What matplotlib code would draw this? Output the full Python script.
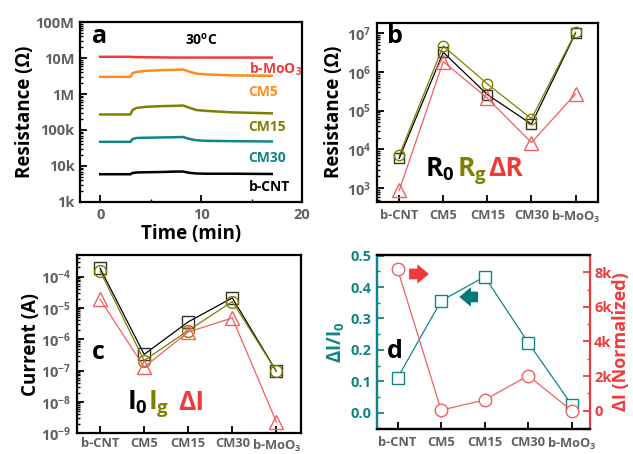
import numpy as np
import matplotlib
matplotlib.use("Agg")
import matplotlib.pyplot as plt
from matplotlib.ticker import FixedLocator, FuncFormatter, LogLocator, NullFormatter, MultipleLocator

plt.rcParams['font.family'] = ['Open Sans', 'DejaVu Sans']
plt.rcParams['font.weight'] = 'bold'
plt.rcParams['mathtext.fontset'] = 'custom'
plt.rcParams['mathtext.rm'] = 'Open Sans:bold'
plt.rcParams['mathtext.it'] = 'Open Sans:bold'
plt.rcParams['mathtext.bf'] = 'Open Sans:bold'
plt.rcParams['mathtext.default'] = 'bf'
plt.rcParams['axes.linewidth'] = 1.6

# ---------------- data ----------------
time_min = [0, 3.0, 3.2, 3.6, 4.5, 6.0, 7.5, 8.2, 8.8, 9.5, 10.5, 13.0, 17.0]
r_moo3 = [10.8e6, 10.8e6, 10.7e6, 10.6e6, 10.5e6, 10.4e6, 10.3e6, 10.3e6, 10.3e6, 10.3e6, 10.3e6, 10.3e6, 10.3e6]
r_cm5 = [3.0e6, 3.0e6, 3.8e6, 4.1e6, 4.4e6, 4.6e6, 4.7e6, 4.8e6, 4.2e6, 3.7e6, 3.5e6, 3.3e6, 3.2e6]
r_cm15 = [2.7e5, 2.7e5, 3.6e5, 4.1e5, 4.4e5, 4.6e5, 4.7e5, 4.8e5, 4.2e5, 3.6e5, 3.4e5, 3.1e5, 2.9e5]
r_cm30 = [4.7e4, 4.7e4, 5.6e4, 6.0e4, 6.1e4, 6.2e4, 6.3e4, 6.4e4, 5.7e4, 5.2e4, 5.0e4, 4.9e4, 4.8e4]
r_cnt = [5.9e3, 5.9e3, 6.4e3, 6.6e3, 6.7e3, 6.8e3, 7.0e3, 7.0e3, 6.5e3, 6.2e3, 6.1e3, 6.1e3, 6.0e3]
a_series_labels = ['b-MoO$_3$', 'CM5', 'CM15', 'CM30', 'b-CNT']
a_label_y = [4.95e6, 1.14e6, 1.21e5, 1.67e4, 2.6e3]
a_yticks = [1e3, 1e4, 1e5, 1e6, 1e7, 1e8]
a_ytick_labels = ['1k', '10k', '100k', '1M', '10M', '100M']
a_xticks = [0, 10, 20]

categories = ['b-CNT', 'CM5', 'CM15', 'CM30', 'b-MoO$_3$']

R0 = [5.9e3, 3.2e6, 2.6e5, 4.5e4, 1.0e7]
Rg = [7.0e3, 4.7e6, 4.9e5, 6.2e4, 1.05e7]
dR = [8.7e2, 1.85e6, 2.1e5, 1.5e4, 2.7e5]

I0 = [1.85e-4, 3.3e-7, 3.6e-6, 2.1e-5, 9.5e-8]
Ig = [1.5e-4, 2.1e-7, 1.9e-6, 1.6e-5, 9.5e-8]
dI = [1.9e-5, 1.3e-7, 1.7e-6, 4.8e-6, 2.3e-9]

dI_over_I0 = [0.111, 0.356, 0.433, 0.223, 0.025]
dI_norm = [8170, 30, 620, 2020, 0]
d_right_ticks = [0, 2000, 4000, 6000, 8000]
d_right_labels = ['0', '2k', '4k', '6k', '8k']

# ---------------- colors ----------------
RED = '#f03a3a'
LRED = '#f06060'
ORANGE = '#ff8c1a'
OLIVE = '#808000'
TEAL = '#108585'
DTEAL = '#007a7a'
GRAY = '#606060'

fig = plt.figure(figsize=(6.33, 4.54), dpi=100)

def style_ticks(ax, color=GRAY, size=10):
    ax.tick_params(which='major', direction='in', length=5, width=1.3, labelsize=size, labelcolor=color, pad=4)
    ax.tick_params(which='minor', direction='in', length=2.5, width=1.0)
    for lab in ax.get_xticklabels() + ax.get_yticklabels():
        lab.set_fontweight('bold')

# ---------------- panel a ----------------
axa = fig.add_axes([0.1264, 0.5551, 0.3507, 0.3964])
for y, c in zip([r_moo3, r_cm5, r_cm15, r_cm30, r_cnt], [RED, ORANGE, OLIVE, TEAL, 'black']):
    axa.plot(time_min, y, color=c, lw=1.8)
axa.set_yscale('log')
axa.set_ylim(1e3, 1e8)
axa.set_xlim(-2, 20)
axa.yaxis.set_major_locator(FixedLocator(a_yticks))
axa.yaxis.set_major_formatter(FuncFormatter(lambda v, p: a_ytick_labels[a_yticks.index(v)] if v in a_yticks else ''))
axa.yaxis.set_minor_locator(LogLocator(base=10, subs=np.arange(2, 10), numticks=20))
axa.yaxis.set_minor_formatter(NullFormatter())
axa.xaxis.set_major_locator(FixedLocator(a_xticks))
axa.xaxis.set_minor_locator(MultipleLocator(5))
style_ticks(axa, size=10.5)
axa.set_ylabel('Resistance (Ω)', fontsize=13.5, fontweight='bold', labelpad=0)
axa.set_xlabel('Time (min)', fontsize=13.5, fontweight='bold', labelpad=2)
for lab, yy, c in zip(a_series_labels, a_label_y, [RED, ORANGE, OLIVE, TEAL, 'black']):
    axa.text(14.7, yy, lab, color=c, fontsize=10, fontweight='bold', va='center', ha='left')
axa.text(0.054, 0.883, 'a', transform=axa.transAxes, fontsize=18, fontweight='bold', va='baseline')
axa.text(0.545, 0.9, '30$^{\\mathbf{o}}$C', transform=axa.transAxes, fontsize=10, fontweight='bold', va='center', ha='center')

x = np.arange(len(categories))

def cat_axis(ax):
    ax.set_xlim(-0.51, 4.51)
    ax.set_xticks(x)
    ax.set_xticklabels(categories)

def log_fmt(v, p):
    e = int(round(np.log10(v)))
    return '$10^{%d}$' % e

CAT_SIZE = 9.3

# ---------------- panel b ----------------
axb = fig.add_axes([0.5951, 0.5557, 0.3496, 0.3943])
axb.plot(x, R0, color='black', lw=0.9, marker='s', ms=6.5, mfc='none', mec='#303030', mew=1.0)
axb.plot(x, Rg, color=OLIVE, lw=0.9, marker='o', ms=7.5, mfc='none', mec=OLIVE, mew=1.0)
axb.plot(x, dR, color=LRED, lw=0.9, marker='^', ms=9.5, mfc='none', mec=LRED, mew=1.0)
axb.set_yscale('log')
axb.set_ylim(10**2.65, 10**7.27)
axb.yaxis.set_major_locator(FixedLocator([1e3, 1e4, 1e5, 1e6, 1e7]))
axb.yaxis.set_major_formatter(FuncFormatter(log_fmt))
axb.yaxis.set_minor_locator(LogLocator(base=10, subs=np.arange(2, 10), numticks=20))
axb.yaxis.set_minor_formatter(NullFormatter())
cat_axis(axb)
style_ticks(axb, size=10.5)
axb.tick_params(axis='x', labelsize=CAT_SIZE, pad=5)
axb.set_ylabel('Resistance (Ω)', fontsize=13.5, fontweight='bold', labelpad=2)
axb.text(0.047, 0.887, 'b', transform=axb.transAxes, fontsize=18, fontweight='bold', va='baseline')
fig.text(0.6714, 0.6123, 'R$_{\\mathbf{0}}$', color='black', fontsize=19, fontweight='bold', va='baseline')
fig.text(0.722, 0.6123, 'R$_{\\mathbf{g}}$', color=OLIVE, fontsize=19, fontweight='bold', va='baseline')
fig.text(0.771, 0.6123, 'ΔR', color=RED, fontsize=19, fontweight='bold', va='baseline')

# ---------------- panel c ----------------
axc = fig.add_axes([0.1212, 0.0456, 0.3551, 0.3927])
axc.plot(x, I0, color='black', lw=0.9, marker='s', ms=8, mfc='none', mec='#303030', mew=1.0)
axc.plot(x, Ig, color=OLIVE, lw=0.9, marker='o', ms=8.5, mfc='none', mec=OLIVE, mew=1.0)
axc.plot(x, dI, color=LRED, lw=0.9, marker='^', ms=10, mfc='none', mec=LRED, mew=1.0)
axc.set_yscale('log')
axc.set_ylim(1e-9, 10**-3.31)
axc.yaxis.set_major_locator(FixedLocator([1e-9, 1e-8, 1e-7, 1e-6, 1e-5, 1e-4]))
axc.yaxis.set_major_formatter(FuncFormatter(log_fmt))
axc.yaxis.set_minor_locator(LogLocator(base=10, subs=np.arange(2, 10), numticks=20))
axc.yaxis.set_minor_formatter(NullFormatter())
cat_axis(axc)
axc.set_xlim(-0.53, 4.57)
style_ticks(axc, size=10.5)
axc.tick_params(axis='x', labelsize=CAT_SIZE, pad=3)
axc.set_ylabel('Current (A)', fontsize=13.5, fontweight='bold', labelpad=0)
axc.text(0.068, 0.415, 'c', transform=axc.transAxes, fontsize=18, fontweight='bold', va='baseline')
fig.text(0.2006, 0.097, 'I$_{\\mathbf{0}}$', color='black', fontsize=19, fontweight='bold', va='baseline')
fig.text(0.234, 0.097, 'I$_{\\mathbf{g}}$', color=OLIVE, fontsize=19, fontweight='bold', va='baseline')
fig.text(0.281, 0.097, 'ΔI', color=RED, fontsize=19, fontweight='bold', va='baseline')

# ---------------- panel d ----------------
axd = fig.add_axes([0.5951, 0.0551, 0.337, 0.3832])
axd2 = axd.twinx()
axd.plot(x, dI_over_I0, color=TEAL, lw=0.9, marker='s', ms=8.4, mfc='white', mec=TEAL, mew=1.0, zorder=3)
axd2.plot(x, dI_norm, color=LRED, lw=0.9, marker='o', ms=9, mfc='white', mec=LRED, mew=1.0)
axd.set_ylim(-0.052, 0.502)
axd2.set_ylim(-1060, 9000)
axd.yaxis.set_major_locator(MultipleLocator(0.1))
axd.yaxis.set_minor_locator(MultipleLocator(0.05))
axd.yaxis.set_major_formatter(FuncFormatter(lambda v, p: '%.1f' % v))
axd2.yaxis.set_major_locator(FixedLocator(d_right_ticks))
axd2.set_yticklabels(d_right_labels)
axd2.yaxis.set_minor_locator(MultipleLocator(1000))
cat_axis(axd)
axd.set_xlim(-0.48, 4.42)
style_ticks(axd, size=10.5)
axd.tick_params(axis='x', labelsize=CAT_SIZE, pad=5)
axd.tick_params(axis='y', which='both', colors=TEAL, labelcolor=TEAL)
style_ticks(axd2, size=10.5)
axd2.tick_params(axis='y', which='both', colors=RED, labelcolor=RED, pad=3)
axd.spines['left'].set_color(TEAL)
axd2.spines['left'].set_color(TEAL)
axd2.spines['right'].set_color(RED)
axd.spines['right'].set_visible(False)
axd.set_ylabel('ΔI/I$_{\\mathbf{0}}$', fontsize=13.5, fontweight='bold', color=TEAL, labelpad=2)
axd2.set_ylabel('ΔI (Normalized)', fontsize=13, fontweight='bold', color=RED, labelpad=0)
axd.text(0.048, 0.41, 'd', transform=axd.transAxes, fontsize=18, fontweight='bold', va='baseline')
axd2.annotate('', xy=(0.245, 0.891), xytext=(0.152, 0.891), xycoords='axes fraction', textcoords='axes fraction',
              arrowprops=dict(arrowstyle='simple,head_length=0.6,head_width=1.0,tail_width=0.55',
                              fc=RED, ec='none', mutation_scale=14, shrinkA=0, shrinkB=0))
axd2.annotate('', xy=(0.387, 0.759), xytext=(0.475, 0.759), xycoords='axes fraction', textcoords='axes fraction',
              arrowprops=dict(arrowstyle='simple,head_length=0.6,head_width=1.0,tail_width=0.55',
                              fc=DTEAL, ec='none', mutation_scale=14, shrinkA=0, shrinkB=0))

fig.savefig('out.png', dpi=100)
